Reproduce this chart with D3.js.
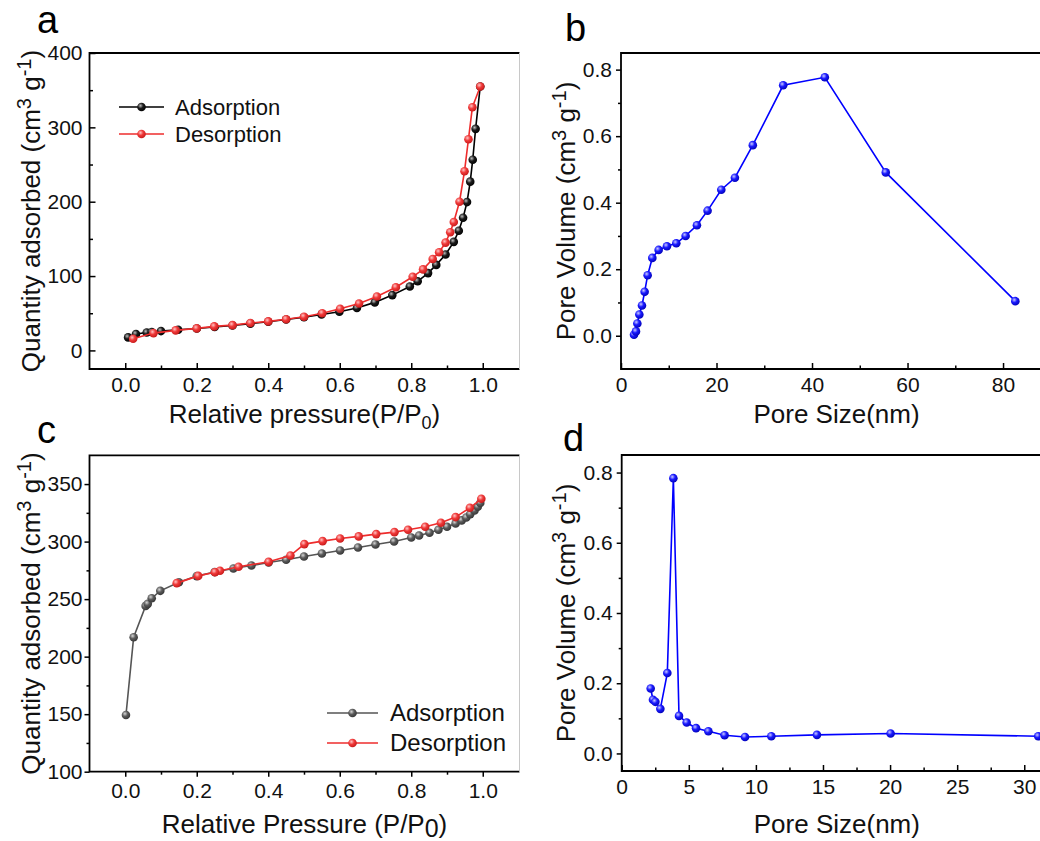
<!DOCTYPE html>
<html>
<head>
<meta charset="utf-8">
<script src="https://cdn.jsdelivr.net/npm/d3@7"></script>
<style>
  body { margin: 0; background: #fff; }
  svg { display: block; font-family: Arial, "Liberation Sans", sans-serif; }
</style>
</head>
<body>
<div id="chart"></div>
<script>
// panel a - N2 isotherm (P/P0, quantity)
const aAdsorption = [
  [0.008, 17.5], [0.03, 22], [0.06, 24], [0.074, 24.7], [0.1, 26], [0.148, 27.8],
  [0.2, 29.5], [0.25, 31.5], [0.3, 33.5], [0.35, 36], [0.4, 38.5], [0.45, 41.5], [0.5, 44.5],
  [0.549, 48.4], [0.599, 52], [0.648, 57], [0.698, 64.6], [0.747, 74.4], [0.796, 86],
  [0.818, 93], [0.847, 104], [0.87, 115], [0.896, 129], [0.919, 146], [0.933, 161],
  [0.945, 178.5], [0.956, 199.5], [0.965, 227], [0.972, 256.5], [0.98, 298], [0.993, 355]
];
const aDesorption = [
  [0.993, 355], [0.971, 327], [0.96, 284], [0.949, 241], [0.935, 200], [0.919, 172.6],
  [0.909, 159], [0.896, 145], [0.878, 132], [0.86, 123], [0.833, 109], [0.804, 99],
  [0.757, 85], [0.704, 72.6], [0.654, 63], [0.601, 56], [0.551, 50], [0.5, 45.3],
  [0.45, 42], [0.4, 39], [0.35, 36.8], [0.3, 34], [0.249, 32.3], [0.2, 29.6],
  [0.141, 26.9], [0.079, 23.3], [0.022, 15.7]
];

// panel b - pore size distribution (nm, cm3/g)
const bPores = [
  [2.72, 0.003], [3.14, 0.013], [3.42, 0.037], [3.84, 0.064], [4.39, 0.091], [4.95, 0.132],
  [5.58, 0.182], [6.56, 0.234], [7.88, 0.258], [9.62, 0.269], [11.58, 0.278], [13.53, 0.300],
  [15.9, 0.332], [18.13, 0.376], [21.0, 0.439], [23.85, 0.475], [27.6, 0.573], [33.96, 0.753],
  [42.68, 0.777], [55.44, 0.491], [82.57, 0.104]
];

// panel c - isotherm
const cAdsorption = [
  [0.002, 149.3], [0.0235, 216.9], [0.057, 244.1], [0.063, 245.9], [0.074, 250.8], [0.098, 257.2],
  [0.15, 264.7], [0.2, 270], [0.25, 273.5], [0.3025, 276.6], [0.353, 279.2], [0.401, 281.8],
  [0.45, 284.2], [0.5, 287], [0.55, 289.7], [0.601, 292.3], [0.651, 294.9], [0.7, 297.5],
  [0.752, 300.1], [0.8, 303.6], [0.822, 305.3], [0.851, 307.7], [0.876, 310.3], [0.9, 312.9],
  [0.924, 315.8], [0.941, 318.4], [0.954, 321], [0.965, 323.9], [0.977, 327.1], [0.986, 330.3],
  [0.993, 333.5]
];
const cDesorption = [
  [0.996, 337.2], [0.964, 329.4], [0.924, 321.3], [0.883, 316.4], [0.839, 312.9], [0.791, 310.3],
  [0.753, 308.2], [0.702, 306.5], [0.653, 304.5], [0.601, 302.7], [0.552, 300.4], [0.501, 297.8],
  [0.462, 287.9], [0.401, 282.4], [0.317, 278.1], [0.265, 274.6], [0.251, 273.4], [0.204, 270.2],
  [0.144, 263.9]
];

// panel d - pore size distribution
const dPores = [
  [2.16, 0.185], [2.33, 0.153], [2.51, 0.147], [2.88, 0.127], [3.40, 0.229], [3.85, 0.784],
  [4.27, 0.107], [4.84, 0.088], [5.54, 0.072], [6.46, 0.063], [7.67, 0.052], [9.19, 0.047],
  [11.15, 0.049], [14.55, 0.053], [20.04, 0.057], [31.04, 0.049]
];

const isoXTicks = [0, 0.2, 0.4, 0.6, 0.8, 1.0];
const isoXMinor = [0.1, 0.3, 0.5, 0.7, 0.9];
const aYTicks = [0, 100, 200, 300, 400];
const aYMinor = [50, 150, 250, 350];
const bXTicks = [0, 20, 40, 60, 80];
const bXMinor = [10, 30, 50, 70];
const poreYTicks = [0, 0.2, 0.4, 0.6, 0.8];
const poreYMinor = [0.1, 0.3, 0.5, 0.7];
const cYTicks = [100, 150, 200, 250, 300, 350];
const cYMinor = [125, 175, 225, 275, 325];
const dXTicks = [0, 5, 10, 15, 20, 25, 30];
const dXMinor = [2.5, 7.5, 12.5, 17.5, 22.5, 27.5];
const seriesNames = ['Adsorption', 'Desorption'];

const W = 1040, H = 841;
const svg = d3.select('#chart').append('svg').attr('width', W).attr('height', H);

const defs = svg.append('defs');
function ball(id, light, mid, dark) {
  const g = defs.append('radialGradient').attr('id', id)
    .attr('cx', '0.38').attr('cy', '0.35').attr('r', '0.7');
  g.append('stop').attr('offset', '0').attr('stop-color', light);
  g.append('stop').attr('offset', '0.45').attr('stop-color', mid);
  g.append('stop').attr('offset', '1').attr('stop-color', dark);
}
ball('gBlack', '#bdbdbd', '#1a1a1a', '#000');
ball('gRed', '#ffc4c4', '#f03a3a', '#c41818');
ball('gGray', '#d6d6d6', '#5c5c5c', '#333');
ball('gBlue', '#c8c8ff', '#1a1aff', '#0000b4');

const FS_TICK = 21, FS_TITLE = 26;

function panel(p) {
  const g = svg.append('g');
  const x = d3.scaleLinear().domain(p.xDomain).range(p.xRange);
  const y = d3.scaleLinear().domain(p.yDomain).range(p.yRange);
  const left = p.xRange[0], bottom = p.yRange[0], top = p.yRange[1];

  // axes
  const xa = d3.axisBottom(x).tickValues(p.xTicks).tickFormat(p.xFmt)
    .tickSize(p.xIn ? -6 : 5).tickPadding(p.xIn ? 8 : 6);
  g.append('g').attr('transform', `translate(0,${bottom})`).call(xa);
  const xm = d3.axisBottom(x).tickValues(p.xMinor).tickFormat('').tickSize(p.xIn ? -3.5 : 3);
  g.append('g').attr('transform', `translate(0,${bottom})`).call(xm);

  const ya = d3.axisLeft(y).tickValues(p.yTicks).tickFormat(p.yFmt)
    .tickSize(p.yIn ? -6 : 5).tickPadding(p.yPad);
  g.append('g').attr('transform', `translate(${left},0)`).call(ya);
  const ym = d3.axisLeft(y).tickValues(p.yMinor).tickFormat('').tickSize(p.yIn ? -3.5 : 3);
  g.append('g').attr('transform', `translate(${left},0)`).call(ym);

  g.selectAll('.domain').remove();
  g.selectAll('.tick line').attr('stroke', '#000').attr('stroke-width', 1.5);
  g.selectAll('.tick text').attr('font-size', FS_TICK).attr('fill', '#111')
    .attr('font-family', 'Arial, "Liberation Sans", sans-serif');

  // frame
  const right = p.frameRight;
  g.append('path')
    .attr('d', `M${right},${top}H${left}V${bottom}H${right}`)
    .attr('fill', 'none').attr('stroke', '#000').attr('stroke-width', 1.8);
  if (p.rightEdge) {
    g.append('line').attr('x1', right).attr('x2', right).attr('y1', top).attr('y2', bottom)
      .attr('stroke', '#c8c8c8').attr('stroke-width', 1);
  }

  // series
  const line = d3.line().x(d => x(d[0])).y(d => y(d[1]));
  p.series.forEach(s => {
    g.append('path').datum(s.data).attr('d', line)
      .attr('fill', 'none').attr('stroke', s.color).attr('stroke-width', 1.6);
    g.append('g').selectAll('circle').data(s.data).join('circle')
      .attr('cx', d => x(d[0])).attr('cy', d => y(d[1])).attr('r', 4.3)
      .attr('fill', `url(#${s.grad})`);
  });

  // legend
  if (p.legend) {
    p.series.forEach((s, i) => {
      const ly = p.legend.y + i * p.legend.dy;
      g.append('line').attr('x1', p.legend.x).attr('x2', p.legend.x + p.legend.len)
        .attr('y1', ly).attr('y2', ly).attr('stroke', s.color).attr('stroke-width', 1.6);
      g.append('circle').attr('cx', p.legend.x + p.legend.len / 2).attr('cy', ly).attr('r', 4.3)
        .attr('fill', `url(#${s.grad})`);
      g.append('text').attr('x', p.legend.tx).attr('y', ly + 8).attr('font-size', p.legend.fs)
        .attr('fill', '#111').text(seriesNames[i]);
    });
  }

  // panel letter
  g.append('text').attr('x', p.letter[0]).attr('y', p.letter[1]).attr('font-size', 38)
    .attr('fill', '#000').text(p.letter[2]);

  // x title
  const xt = g.append('text').attr('x', (left + (p.titleCenter || right)) / 2)
    .attr('y', p.xTitleY).attr('text-anchor', 'middle').attr('font-size', FS_TITLE).attr('fill', '#111');
  p.xTitle(xt);

  // y title
  const yt = g.append('text')
    .attr('transform', `translate(${p.yTitleX},${(top + bottom) / 2}) rotate(-90)`)
    .attr('text-anchor', 'middle').attr('font-size', FS_TITLE).attr('fill', '#111');
  p.yTitle(yt);
}

function pressureTitle(cap, space, subSize, subDy) {
  return t => {
    t.append('tspan').text(`Relative ${cap}ressure${space}(P/P`);
    t.append('tspan').attr('font-size', subSize).attr('dy', subDy).text('0');
    t.append('tspan').attr('dy', -subDy).text(')');
  };
}
function unitsTitle(word) {
  return t => {
    t.append('tspan').text(`${word} (cm`);
    t.append('tspan').attr('font-size', 20).attr('dy', -9).text('3');
    t.append('tspan').attr('dy', 9).text(' g');
    t.append('tspan').attr('font-size', 20).attr('dy', -9).text('-1');
    t.append('tspan').attr('dy', 9).text(')');
  };
}
function poreSizeTitle(t) { t.text('Pore Size(nm)'); }

const f1 = d3.format('.1f'), f0 = d3.format('d');

panel({
  xDomain: [-0.1, 1.1], xRange: [89.5, 518.5],
  yDomain: [-25, 400], yRange: [369, 53],
  xTicks: isoXTicks, xMinor: isoXMinor, xFmt: f1, xIn: true,
  yTicks: aYTicks, yMinor: aYMinor, yFmt: f0, yIn: true, yPad: 7,
  frameRight: 519.5, rightEdge: true,
  series: [
    { data: aAdsorption, color: '#000', grad: 'gBlack' },
    { data: aDesorption, color: '#ee2c2c', grad: 'gRed' }
  ],
  legend: { x: 119, len: 45, tx: 175, y: 107, dy: 27, fs: 22 },
  letter: [37, 33, 'a'],
  xTitleY: 423, xTitle: pressureTitle('p', '', 18, 6),
  yTitleX: 40, yTitle: unitsTitle('Quantity adsorbed')
});

panel({
  xDomain: [0, 90], xRange: [621, 1050.8],
  yDomain: [-0.1, 0.85], yRange: [369, 53],
  xTicks: bXTicks, xMinor: bXMinor, xFmt: f0, xIn: true,
  yTicks: poreYTicks, yMinor: poreYMinor, yFmt: f1, yIn: false, yPad: 4,
  frameRight: 1050,
  series: [{ data: bPores, color: '#0000ff', grad: 'gBlue' }],
  letter: [565, 41, 'b'],
  titleCenter: 1052, xTitleY: 423, xTitle: poreSizeTitle,
  yTitleX: 575, yTitle: unitsTitle('Pore Volume')
});

panel({
  xDomain: [-0.1, 1.1], xRange: [89.5, 518.5],
  yDomain: [100, 375], yRange: [771.7, 455.3],
  xTicks: isoXTicks, xMinor: isoXMinor, xFmt: f1, xIn: false,
  yTicks: cYTicks, yMinor: cYMinor, yFmt: f0, yIn: false, yPad: 2,
  frameRight: 519.5, rightEdge: true,
  series: [
    { data: cAdsorption, color: '#555', grad: 'gGray' },
    { data: cDesorption, color: '#ee2c2c', grad: 'gRed' }
  ],
  legend: { x: 327, len: 51, tx: 390, y: 713, dy: 30, fs: 24 },
  letter: [37, 443, 'c'],
  xTitleY: 833, xTitle: pressureTitle('P', ' ', 25, 4),
  yTitleX: 40, yTitle: unitsTitle('Quantity adsorbed')
});

panel({
  xDomain: [0, 32], xRange: [621.7, 1051.1],
  yDomain: [-0.05, 0.85], yRange: [771, 455],
  xTicks: dXTicks, xMinor: dXMinor, xFmt: f0, xIn: true,
  yTicks: poreYTicks, yMinor: poreYMinor, yFmt: f1, yIn: false, yPad: 4,
  frameRight: 1052,
  series: [{ data: dPores, color: '#0000ff', grad: 'gBlue' }],
  letter: [563, 451, 'd'],
  titleCenter: 1052, xTitleY: 833, xTitle: poreSizeTitle,
  yTitleX: 575, yTitle: unitsTitle('Pore Volume')
});
</script>
</body>
</html>
